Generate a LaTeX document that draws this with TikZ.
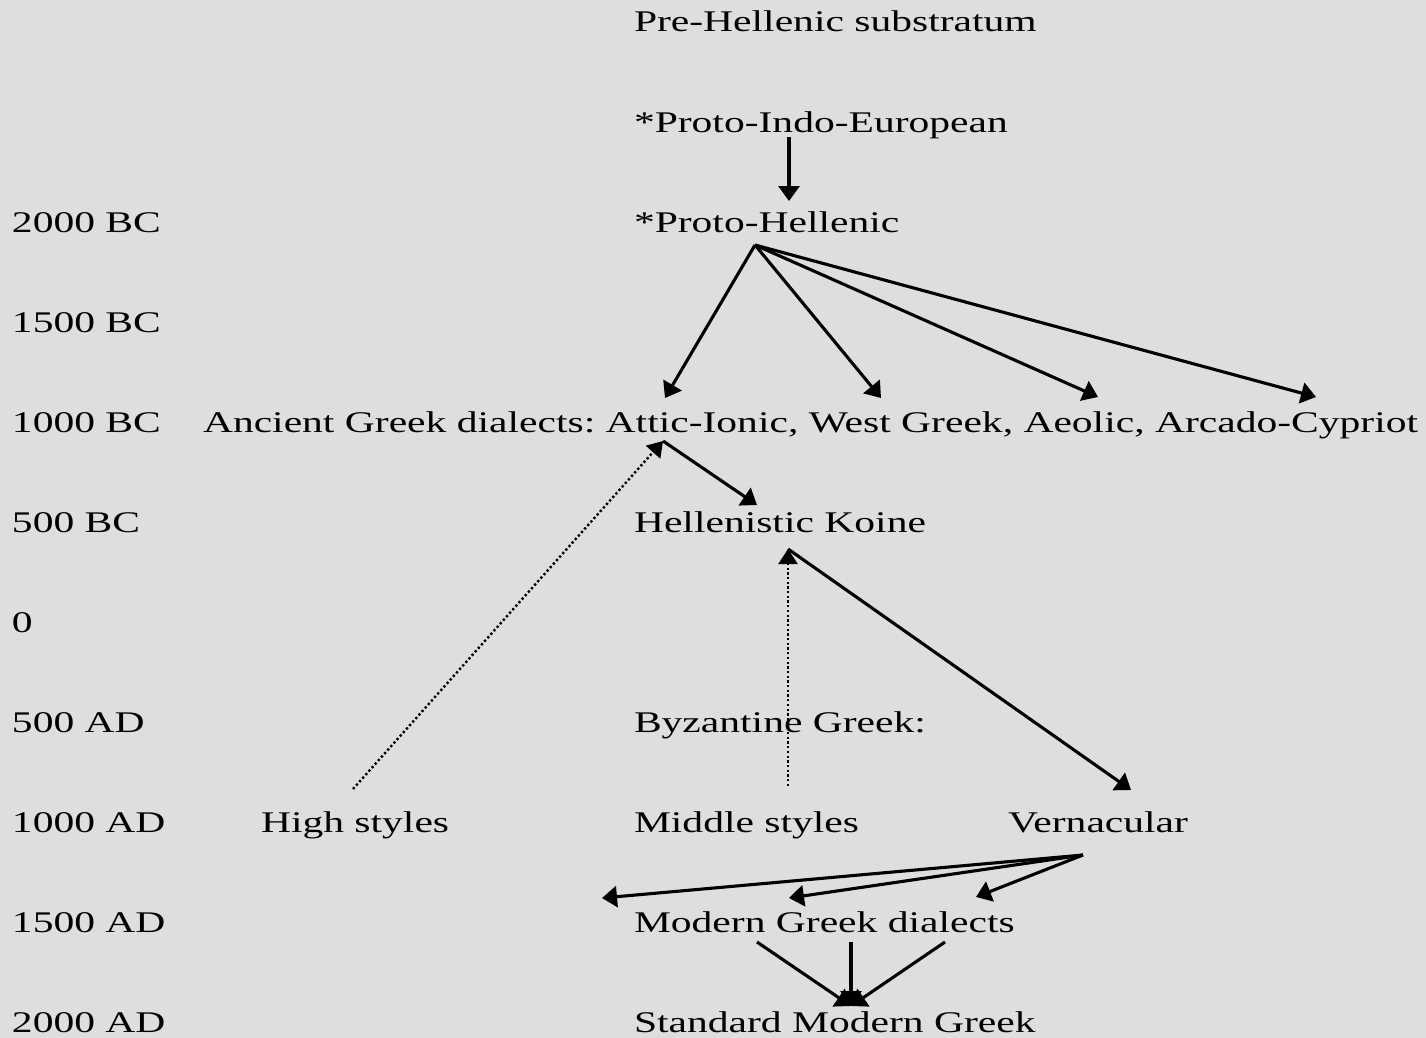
\documentclass[tikz,border=0pt]{standalone}
\usepackage{fontspec}
\setmainfont{Liberation Serif}[FakeStretch=1.385]
\usetikzlibrary{arrows.meta}
\definecolor{bggray}{HTML}{DEDEDE}
\frenchspacing
\tikzset{
  lbl/.style={anchor=base west, inner sep=0pt, outer sep=0pt, font=\fontsize{30}{36}\selectfont, text=black},
  solidarrow/.style={line width=3.1pt, -{Triangle[length=15pt,width=21pt]}},
  dotarrow/.style={line width=2.4pt, dash pattern=on 2.3pt off 2.4pt, -{Triangle[length=15pt,width=19pt]}},
}
\begin{document}
\begin{tikzpicture}[x=1pt,y=-1pt]
\fill[bggray] (0,0) rectangle (1426,1038);
\useasboundingbox (0,0) rectangle (1426,1038);
% dates
\node[lbl] (d2000bc) at (12,232) {2000 BC};
\node[lbl] (d1500bc) at (12,332) {1500 BC};
\node[lbl] (d1000bc) at (12,432) {1000 BC};
\node[lbl] (d500bc) at (12,532) {500 BC};
\node[lbl] (d0) at (12,632) {0};
\node[lbl] (d500ad) at (12,732) {500 AD};
\node[lbl] (d1000ad) at (12,832) {1000 AD};
\node[lbl] (d1500ad) at (12,932) {1500 AD};
\node[lbl] (d2000ad) at (12,1032) {2000 AD};
% languages
\node[lbl] (pre) at (634,32) {Pre-Hellenic substratum};
\node[lbl] (pie) at (634,132) {*Proto-Indo-European};
\node[lbl] (ph) at (634,232) {*Proto-Hellenic};
\node[lbl] (anc) at (203,432) {Ancient Greek dialects: Attic-Ionic, West Greek, Aeolic, Arcado-Cypriot};
\node[lbl] (koine) at (634,532) {Hellenistic Koine};
\node[lbl] (byz) at (634,732) {Byzantine Greek:};
\node[lbl] (high) at (261,832) {High styles};
\node[lbl] (middle) at (634,832) {Middle styles};
\node[lbl] (vern) at (1008,832) {Vernacular};
\node[lbl] (mgd) at (634,932) {Modern Greek dialects};
\node[lbl] (smg) at (634,1032) {Standard Modern Greek};
% connector end points
\coordinate (pieS) at (789,137);
\coordinate (phN) at (789,201);
\coordinate (phS) at (755,245);
\coordinate (attic) at (665,398);
\coordinate (west) at (881,398);
\coordinate (aeolic) at (1098,397);
\coordinate (arcado) at (1316,397);
\coordinate (atticS) at (663,441);
\coordinate (koineN) at (757,505);
\coordinate (highN) at (353,789);
\coordinate (koineS) at (788,549);
\coordinate (middleN) at (788,786);
\coordinate (vernN) at (1131,790);
\coordinate (vernS) at (1083,855);
\coordinate (mgdA) at (602,898);
\coordinate (mgdB) at (789,898);
\coordinate (mgdC) at (976,897);
\coordinate (mgdS1) at (757,942);
\coordinate (mgdS2) at (851,942);
\coordinate (mgdS3) at (945,942);
\coordinate (smgN) at (851,1006);
% connectors
\draw[solidarrow] (pieS) -- (phN);
\draw[solidarrow] (phS) -- (attic);
\draw[solidarrow] (phS) -- (west);
\draw[solidarrow] (phS) -- (aeolic);
\draw[solidarrow] (phS) -- (arcado);
\draw[solidarrow] (atticS) -- (koineN);
\draw[dotarrow] (highN) -- (atticS);
\draw[dotarrow] (middleN) -- (koineS);
\draw[solidarrow] (koineS) -- (vernN);
\draw[solidarrow] (vernS) -- (mgdA);
\draw[solidarrow] (vernS) -- (mgdB);
\draw[solidarrow] (vernS) -- (mgdC);
\draw[solidarrow] (mgdS1) -- (smgN);
\draw[solidarrow] (mgdS2) -- (smgN);
\draw[solidarrow] (mgdS3) -- (smgN);
\end{tikzpicture}
\end{document}
